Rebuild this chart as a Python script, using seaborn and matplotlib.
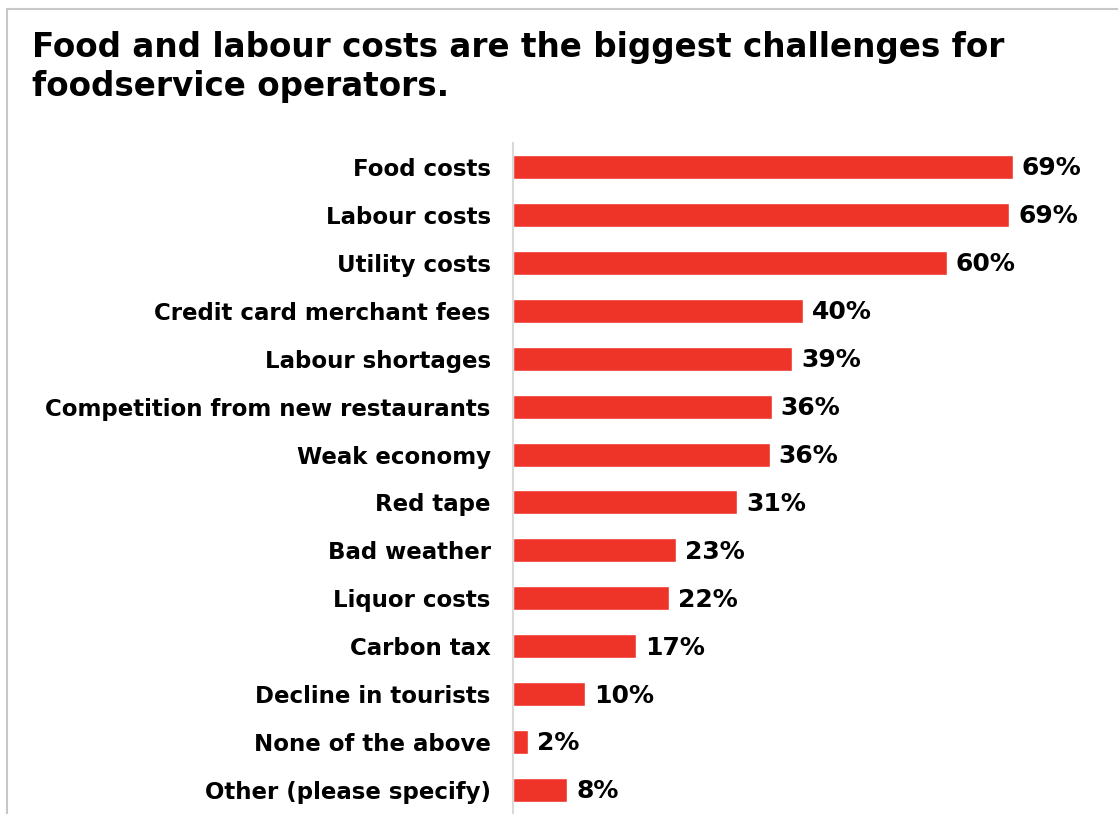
import matplotlib
matplotlib.use("Agg")
import matplotlib.pyplot as plt
import seaborn as sns
import pandas as pd
from matplotlib.lines import Line2D

categories = ["Food costs", "Labour costs", "Utility costs", "Credit card merchant fees",
              "Labour shortages", "Competition from new restaurants", "Weak economy",
              "Red tape", "Bad weather", "Liquor costs", "Carbon tax",
              "Decline in tourists", "None of the above", "Other (please specify)"]
values = [69.1, 68.6, 60.0, 40.1, 38.6, 35.8, 35.5, 31.0, 22.6, 21.6, 17.0, 10.0, 2.1, 7.5]
labels = ["69%", "69%", "60%", "40%", "39%", "36%", "36%", "31%", "23%", "22%", "17%",
          "10%", "2%", "8%"]

title = "Food and labour costs are the biggest challenges for\nfoodservice operators."

sns.set_theme(style="white")
plt.rcParams['font.family'] = ['DejaVu Sans']

df = pd.DataFrame({"cat": categories, "val": values})

W, H = 1118, 814
fig = plt.figure(figsize=(W / 100, H / 100), dpi=100)
ax = fig.add_axes([513 / W, 0, (1100 - 513) / W, (814 - 143) / H])

sns.barplot(data=df, x="val", y="cat", color="#EE3429", saturation=1, width=0.5,
            orient="h", ax=ax)

ax.set_xlim(0, (1100 - 513) / 7.23)
ax.set_ylim(len(categories) - 0.5, -0.5)
ax.set_xlabel("")
ax.set_ylabel("")
ax.set_xticks([])
for s in ["top", "right", "bottom"]:
    ax.spines[s].set_visible(False)
ax.spines["left"].set_color("#D9D9D9")
ax.spines["left"].set_linewidth(1.5)
ax.tick_params(axis="y", length=0, pad=16)
for t in ax.get_yticklabels():
    t.set_fontweight("bold")
    t.set_fontsize(16.5)
    t.set_color("black")

for i, (v, lab) in enumerate(zip(values, labels)):
    ax.annotate(lab, xy=(v, i), xytext=(6.5, -1), textcoords="offset points",
                va="center", ha="left", fontsize=18, fontweight="bold", color="black")

fig.text(32 / W, 1 - 31 / H, title, ha="left", va="top", fontsize=23.5,
         fontweight="bold", color="black", linespacing=1.22)

# frame lines (left and top)
fig.add_artist(Line2D([6.5 / W, 6.5 / W], [0, 1 - 9 / H], transform=fig.transFigure,
                      color="#C8C8C8", linewidth=1.5))
fig.add_artist(Line2D([6.5 / W, 1], [1 - 9 / H, 1 - 9 / H], transform=fig.transFigure,
                      color="#C8C8C8", linewidth=1.5))

fig.savefig("out.png", dpi=100)
